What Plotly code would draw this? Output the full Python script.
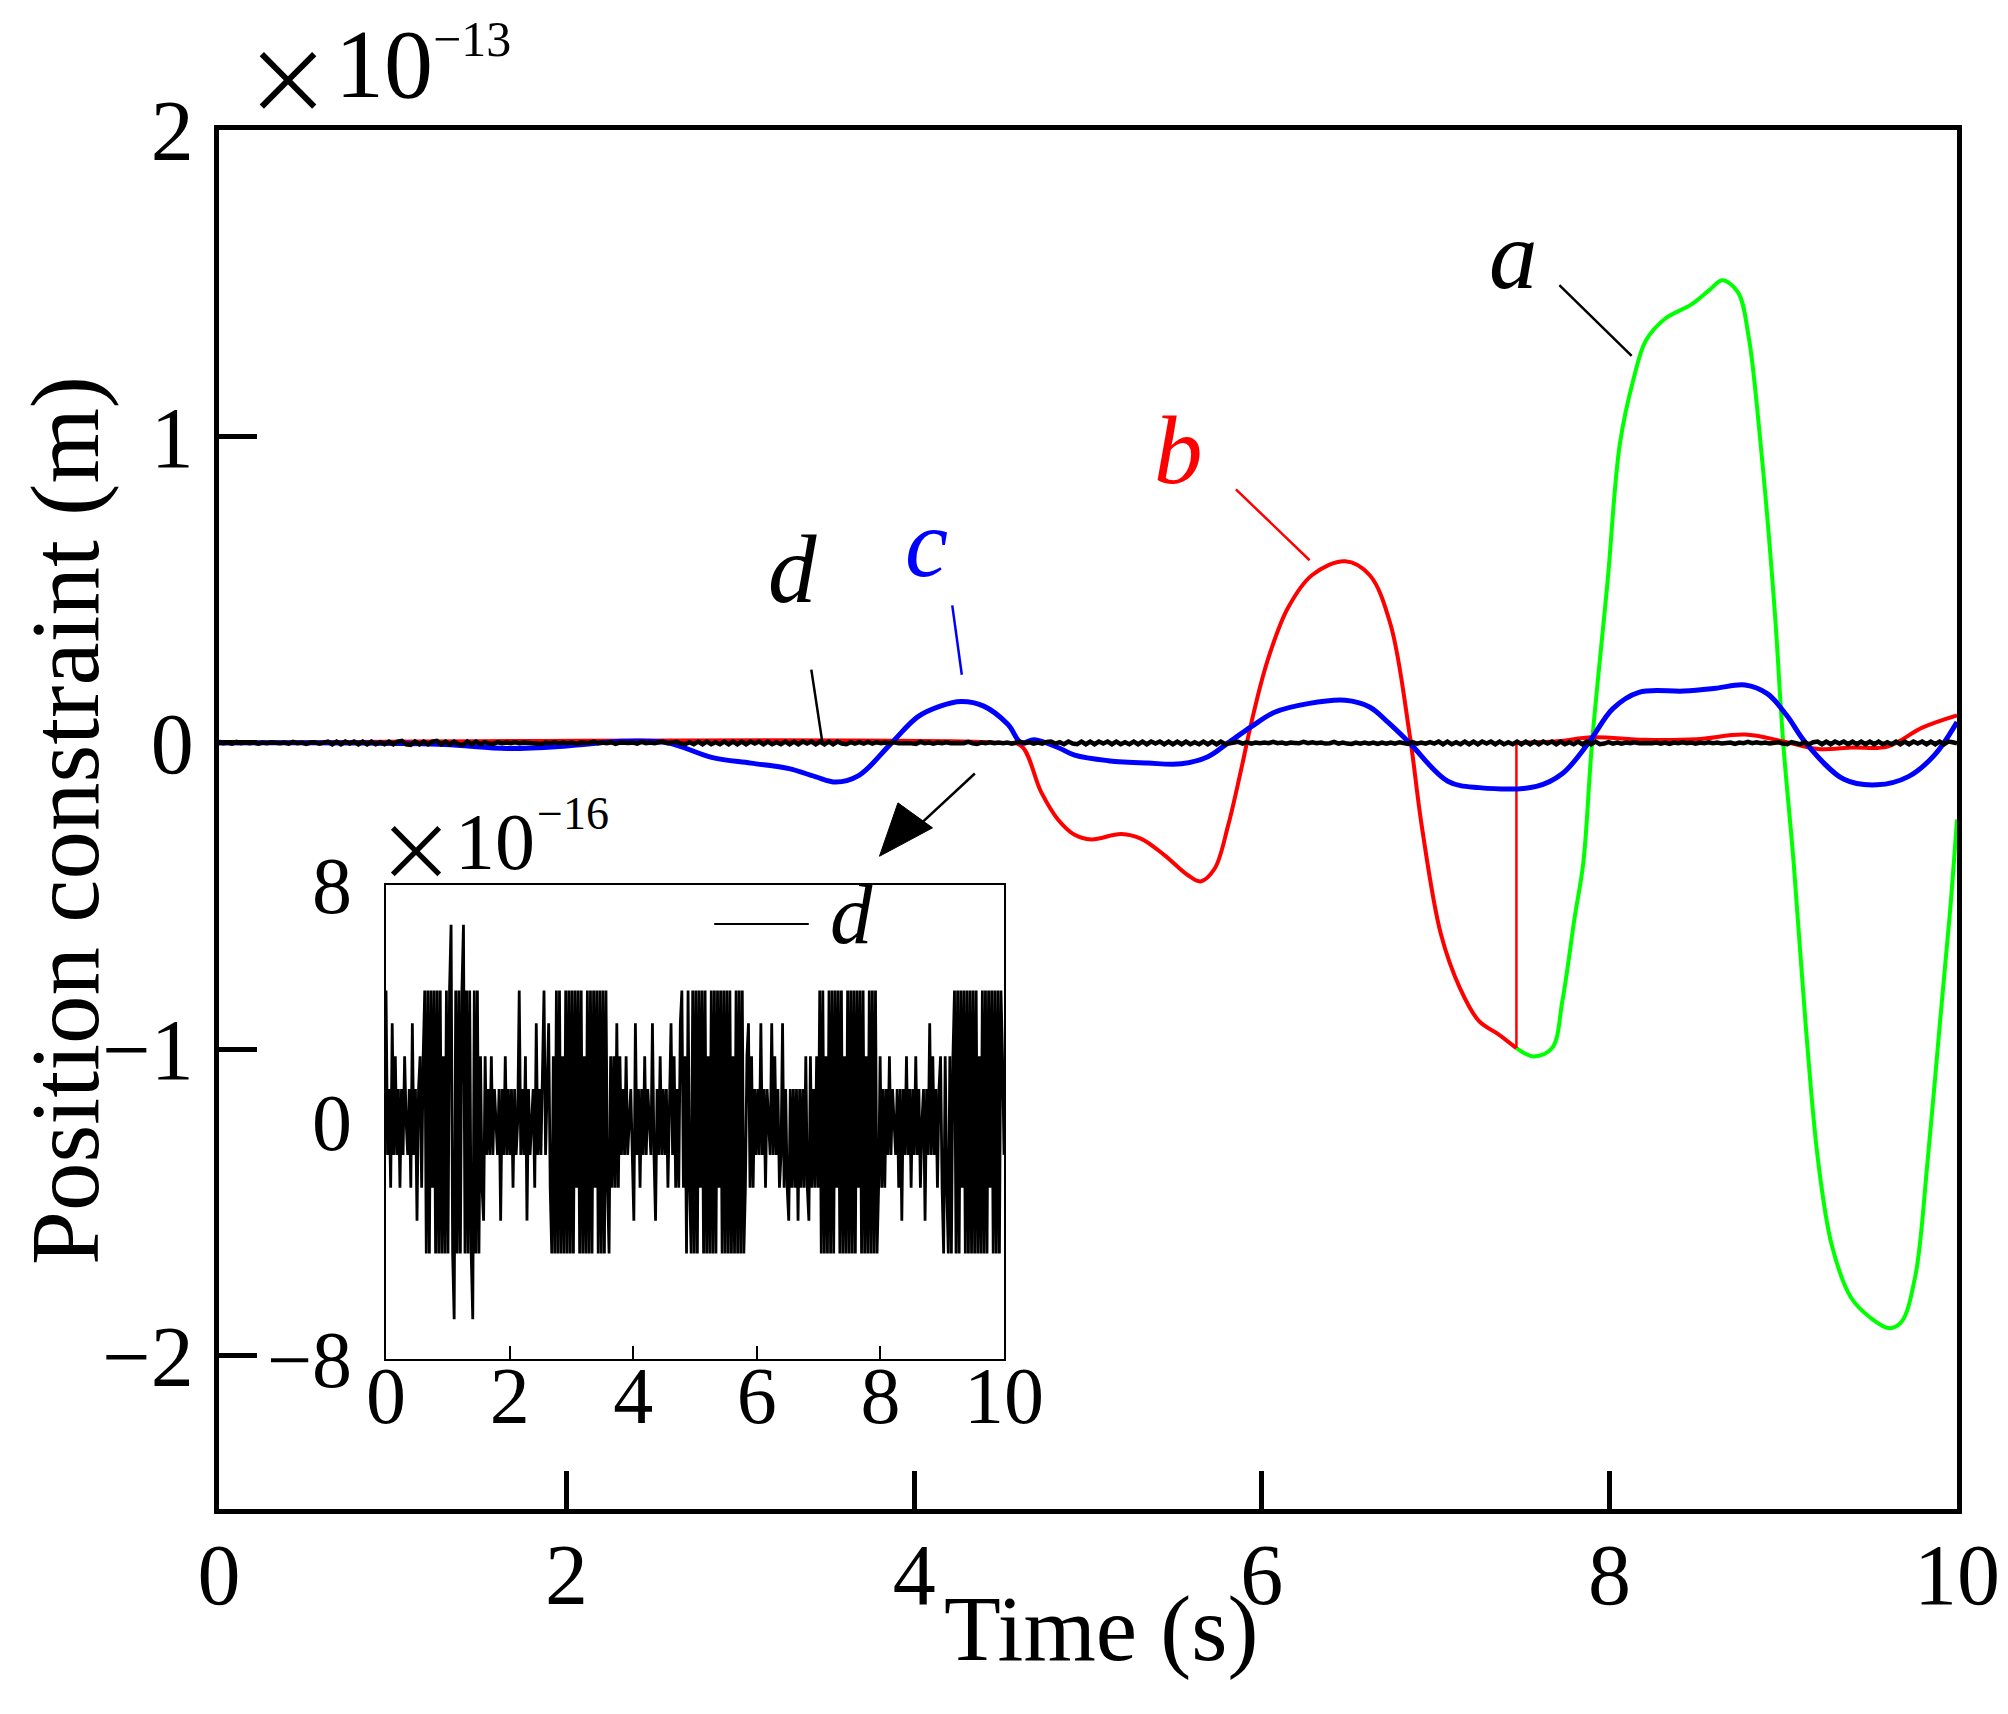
import numpy as np
import plotly.graph_objects as go

FONT = "Liberation Serif"
CJK = "Noto Sans CJK SC"

# curve a (green), position constraint in units of 1e-13 m
a_t = [7.465, 7.565, 7.67, 7.73, 7.8, 7.85, 7.9, 7.99, 8.06, 8.14, 8.21, 8.32, 8.47, 8.58, 8.65,
       8.74, 8.8, 8.87, 8.95, 9.0, 9.06, 9.13, 9.2, 9.28, 9.39, 9.5, 9.61, 9.68, 9.76, 9.83,
       9.9, 9.96, 10.0]
a_v = [-0.996, -1.023, -0.996, -0.84, -0.57, -0.39, 0.0, 0.53, 0.975, 1.19, 1.313, 1.384, 1.43, 1.48, 1.51,
       1.47, 1.33, 0.975, 0.44, 0.0, -0.39, -0.925, -1.36, -1.64, -1.81, -1.875, -1.91, -1.89, -1.74, -1.37,
       -0.925, -0.55, -0.25]

# curve b (red), jumps back to zero at t = 7.465
b_t = [0, 4.5, 4.616, 4.73, 4.827, 4.923, 5.019, 5.192, 5.307, 5.441, 5.575, 5.648, 5.729, 5.806,
       5.882, 5.94, 6.03, 6.15, 6.29, 6.48, 6.62, 6.74, 6.85, 6.92, 7.03, 7.14, 7.25, 7.36, 7.465,
       7.465, 7.7, 7.9, 8.2, 8.5, 8.78, 9.0, 9.2, 9.4, 9.6, 9.8, 10.0]
b_v = [0, 0, -0.01, -0.16, -0.25, -0.30, -0.315, -0.297, -0.313, -0.367, -0.432, -0.452, -0.41, -0.27,
       -0.085, 0.066, 0.263, 0.44, 0.548, 0.593, 0.548, 0.388, 0.03, -0.27, -0.623, -0.80, -0.908, -0.95, -0.996,
       0.0, 0.005, 0.018, 0.01, 0.012, 0.027, 0.005, -0.02, -0.015, -0.012, 0.05, 0.09]

# curve c (blue)
c_t = [0, 0.8, 1.3, 1.66, 2.0, 2.32, 2.58, 2.84, 3.06, 3.28, 3.43, 3.55, 3.68, 3.87, 4.02, 4.15,
       4.27, 4.4, 4.54, 4.616, 4.69, 4.827, 4.923, 5.115, 5.345, 5.537, 5.69, 5.806, 5.94, 6.074,
       6.266, 6.48, 6.62, 6.73, 6.85, 7.07, 7.25, 7.58, 7.73, 7.88, 8.02, 8.17, 8.43, 8.61, 8.78,
       8.91, 9.02, 9.13, 9.35, 9.54, 9.72, 9.87, 10.0]
c_v = [0, 0, -0.005, -0.018, -0.01, 0.005, 0, -0.048, -0.066, -0.084, -0.11, -0.128, -0.107, 0, 0.085, 0.12,
       0.135, 0.12, 0.06, 0.0, 0.01, -0.015, -0.04, -0.058, -0.066, -0.068, -0.045, 0, 0.053, 0.10,
       0.128, 0.139, 0.117, 0.065, 0, -0.125, -0.146, -0.142, -0.10, 0, 0.112, 0.165, 0.169, 0.178, 0.189,
       0.16, 0.09, 0, -0.119, -0.137, -0.11, -0.04, 0.068]

# curve d: round-off noise in steps of half the machine epsilon, sampled every 0.025 s
d_levels = [
    4, -1, 1, -2, 3, -1, 2, -1, 1, -2, 1, -1, 2, 0, -1, 1, -2, 3, -1, 1,
    -3, 1, 2, -2, 2, 4, -4, 4, -4, 4, -2, 4, -4, 4, -4, 4, -4, 2, -4, 4,
    -4, 4, 6, -4, -6, 4, -4, 4, -4, 4, 6, -4, 4, -4, 4, -4, -6, 4, -4, 4,
    -4, 2, -2, -3, 2, -1, 1, -1, 2, -1, 1, 0, -1, 1, -3, 1, -1, 2, -1, 1,
    -1, 1, -2, 1, -1, 0, 4, -1, 1, -1, 2, -3, 1, -1, 0, 1, -2, 3, -1, 1,
    -1, 2, 4, -1, 1, 3, -2, -4, 2, -4, 4, -4, 4, -4, 2, -4, 4, -4, 4, -4,
    4, -4, 4, -2, 4, -4, 4, -4, 2, -4, 4, -4, 4, -4, 4, -2, 4, -4, 4, -4,
    4, -4, 4, -2, -4, 2, -2, 2, -2, 3, -2, 2, -1, 1, -1, 2, -1, 0, 1, -1,
    -3, 3, -1, 1, -2, 1, -1, 2, -1, 1, 0, -1, 3, -1, -3, 1, -1, 2, -1, 1,
    -1, 1, -2, 1, 3, -1, 2, -2, 1, -2, 3, 4, -2, 2, -4, 4, -2, -4, 4, -4,
    4, -4, 4, -2, 4, -4, 4, -4, 2, -4, 4, -4, 4, -4, 4, -2, 4, -4, 4, -4,
    4, -4, 4, -4, 2, -4, 4, -4, 4, -4, 4, -4, -2, 2, 3, -2, 2, -2, 1, -1,
    1, -1, 3, -1, 1, -2, 1, 0, -1, 3, -1, 2, -1, 1, -2, -1, 3, -2, 1, -2,
    -3, 1, -2, 1, -2, 1, -3, 1, -2, 1, -2, 2, -2, -3, 2, -2, 1, -2, 2, -2,
    4, -4, 4, -4, 2, -4, 4, -4, 4, -4, 4, -2, 4, -4, 4, -4, 2, -4, 4, -4,
    4, -4, 4, -4, 4, -2, 4, -4, 4, -4, 2, -4, 4, -4, 4, -4, 4, -4, -2, 2,
    -2, 1, -2, 1, -1, 2, -1, 1, 0, -1, 1, -2, 1, -3, 1, -1, 2, -1, 1, -2,
    1, -1, 2, -1, 1, -2, 0, 1, -3, 1, -1, 3, -1, 2, -1, 1, -2, 1, 2, -2,
    -4, 2, -2, -4, 2, -4, 2, 4, -4, 4, -4, 4, -2, 4, -4, 4, -4, 4, -4, 4,
    -4, 4, -4, 2, -4, 4, -4, 4, -4, 4, -2, 4, -4, 4, -4, 4, -4, 4, 2, -1,
]
half_eps16 = 1.11  # half machine epsilon in units of 1e-16

d_t = np.linspace(0, 10, len(d_levels))
d_inset = np.array(d_levels) * half_eps16     # 1e-16 m
d_main = d_inset * 1e-3                       # 1e-13 m

j = next(i for i in range(len(b_t) - 1) if b_t[i] == b_t[i + 1])

fig = go.Figure()
fig.add_trace(go.Scatter(x=a_t, y=a_v, mode="lines", line=dict(color="#00ff00", width=4, shape="spline", smoothing=1.0)))
fig.add_trace(go.Scatter(x=b_t[:j + 1], y=b_v[:j + 1], mode="lines", line=dict(color="#ff0000", width=4, shape="spline", smoothing=1.0)))
fig.add_trace(go.Scatter(x=b_t[j:j + 2], y=b_v[j:j + 2], mode="lines", line=dict(color="#ff0000", width=2.5)))
fig.add_trace(go.Scatter(x=b_t[j + 1:], y=b_v[j + 1:], mode="lines", line=dict(color="#ff0000", width=4, shape="spline", smoothing=1.0)))
fig.add_trace(go.Scatter(x=c_t, y=c_v, mode="lines", line=dict(color="#0000ff", width=5, shape="spline", smoothing=1.0)))
fig.add_trace(go.Scatter(x=d_t, y=d_main, mode="lines", line=dict(color="black", width=4.5)))
# inset
fig.add_trace(go.Scatter(x=d_t, y=d_inset, mode="lines", line=dict(color="black", width=2.8), xaxis="x2", yaxis="y2"))

tickfont = dict(family=FONT, size=86, color="black")
fig.update_layout(
    width=2008, height=1714,
    margin=dict(l=211, r=59, t=122, b=213),
    paper_bgcolor="white", plot_bgcolor="white",
    showlegend=False,
    xaxis=dict(range=[0, 10], tickvals=[0, 2, 4, 6, 8, 10], ticks="inside", ticklen=38, tickwidth=5,
               tickcolor="black", showline=True, mirror=True, linecolor="black", linewidth=5,
               showgrid=False, zeroline=False, tickfont=tickfont, ticklabelstandoff=-13),
    yaxis=dict(range=[-2.5, 2], tickvals=[-2, -1, 0, 1, 2], ticktext=["\u22122", "\u22121", "0", "1", "2"],
               ticks="inside", ticklen=38, tickwidth=5, tickcolor="black", showline=True, mirror=True,
               linecolor="black", linewidth=5, showgrid=False, zeroline=False, tickfont=tickfont,
               ticklabelstandoff=3),
    xaxis2=dict(domain=[0.0961, 0.4517], anchor="y2", range=[0, 10], tickvals=[0, 2, 4, 6, 8, 10],
                ticks="inside", ticklen=13, tickwidth=2, tickcolor="black", showline=True, mirror=True,
                linecolor="black", linewidth=2, showgrid=False, zeroline=False,
                tickfont=dict(family=FONT, size=80, color="black"), ticklabelstandoff=-34),
    yaxis2=dict(domain=[0.1088, 0.4525], anchor="x2", range=[-8, 8], tickvals=[-8, 0, 8],
                ticktext=["\u22128", "0", "8"], ticks="", showline=True, mirror=True, linecolor="black",
                linewidth=2, showgrid=False, zeroline=False,
                tickfont=dict(family=FONT, size=80, color="black"), ticklabelstandoff=16),
)

def txt(text, x, y, size, color="black", xref="paper", yref="paper", italic=False, angle=0, family=FONT):
    fig.add_annotation(text=text, x=x, y=y, xref=xref, yref=yref, showarrow=False, textangle=angle,
                       xanchor="center", yanchor="middle",
                       font=dict(family=family, size=size, color=color, style="italic" if italic else "normal"))

# axis titles
txt("Time (s)", 0.5075, -0.087, 93)
txt("Position constraint (m)", -0.088, 0.499, 97, angle=-90)
# exponent labels
txt("\u00d7", 0.0397, 1.0406, 88, family=CJK)
txt("10", 0.0949, 1.0482, 98)
txt("\u221213", 0.1453, 1.0662, 50)
txt("\u00d7", 0.1135, 0.4800, 78, family=CJK)
txt("10", 0.1589, 0.4837, 80)
txt("\u221216", 0.2036, 0.504, 46)
# curve labels
txt("a", 7.45, 1.59, 97, xref="x", yref="y", italic=True)
txt("b", 5.52, 0.955, 97, color="#ff0000", xref="x", yref="y", italic=True)
txt("c", 4.07, 0.65, 97, color="#0000ff", xref="x", yref="y", italic=True)
txt("d", 3.30, 0.565, 97, xref="x", yref="y", italic=True)
txt("d", 7.53, 7.02, 85, xref="x2", yref="y2", italic=True)

# leader lines
leaders = [((7.712, 1.494), (8.128, 1.263), "black"),
           ((5.851, 0.8275), (6.275, 0.596), "#ff0000"),
           ((4.219, 0.449), (4.274, 0.2225), "#0000ff"),
           ((3.408, 0.239), (3.471, 0.004), "black")]
for (x0, y0), (x1, y1), col in leaders:
    fig.add_shape(type="line", x0=x0, y0=y0, x1=x1, y1=y1, xref="x", yref="y", line=dict(color=col, width=2.5))

# arrow pointing to the inset
fig.add_shape(type="line", x0=4.349, y0=-0.100, x1=3.95, y1=-0.31, xref="x", yref="y", line=dict(color="black", width=2.5))
fig.add_shape(type="path", xref="x", yref="y", xsizemode="pixel", ysizemode="pixel", xanchor=3.80, yanchor=-0.37,
              path="M0,0 L18.5,53.4 L53.1,28.4 Z", fillcolor="black", line=dict(color="black", width=1))

# inset legend line
fig.add_shape(type="line", x0=5.31, y0=6.68, x1=6.84, y1=6.68, xref="x2", yref="y2", line=dict(color="black", width=2))

fig.write_html("out.html")
